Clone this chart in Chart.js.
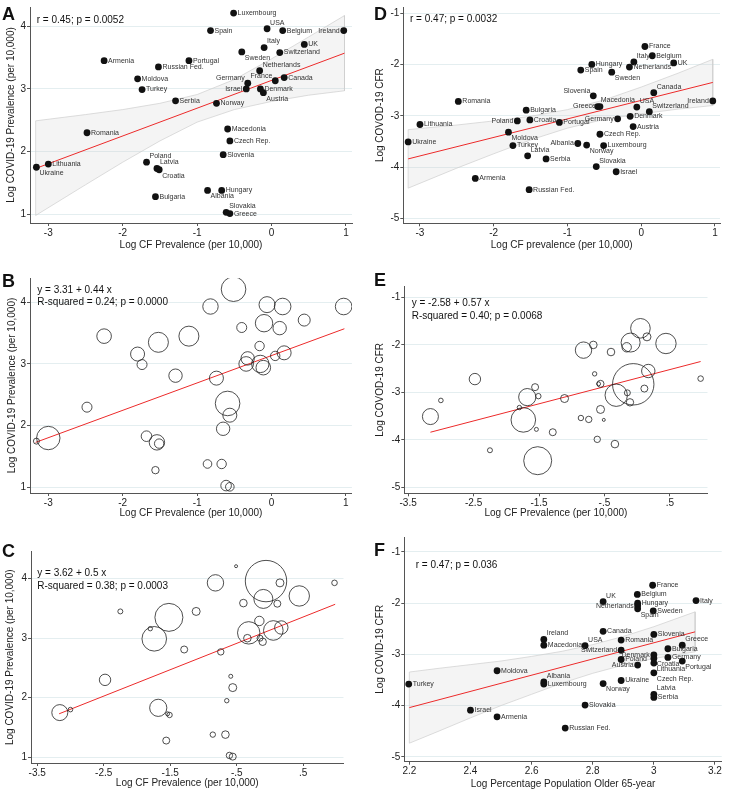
<!DOCTYPE html>
<html>
<head>
<meta charset="utf-8">
<script src="https://cdn.jsdelivr.net/npm/chart.js@4"></script>
<style>
body{margin:0;background:#fff;width:729px;height:795px;position:relative;overflow:hidden}
canvas{position:absolute}
.tag{position:absolute;font:bold 18px "Liberation Sans",Arial,sans-serif;line-height:1;color:#111}
</style>
</head>
<body>
<canvas id="cA" width="365" height="265" style="left:0;top:0"></canvas>
<canvas id="cB" width="365" height="265" style="left:0;top:265px"></canvas>
<canvas id="cC" width="365" height="265" style="left:0;top:530px"></canvas>
<canvas id="cD" width="364" height="265" style="left:365px;top:0"></canvas>
<canvas id="cE" width="364" height="265" style="left:365px;top:265px"></canvas>
<canvas id="cF" width="364" height="265" style="left:365px;top:530px"></canvas>
<div class="tag" style="left:2px;top:5px">A</div>
<div class="tag" style="left:2px;top:272px">B</div>
<div class="tag" style="left:2px;top:542px">C</div>
<div class="tag" style="left:374px;top:5px">D</div>
<div class="tag" style="left:374px;top:271px">E</div>
<div class="tag" style="left:374px;top:541px">F</div>
<script>
// data
const countries = ['Luxembourg','USA','Spain','Belgium','Ireland','Italy','UK','Sweden','Switzerland','Armenia',
  'Portugal','Russian Fed.','Netherlands','Moldova','Canada','France','Germany','Israel','Denmark','Turkey',
  'Austria','Serbia','Norway','Romania','Macedonia','Czech Rep.','Slovenia','Poland','Latvia','Croatia',
  'Lithuania','Ukraine','Bulgaria','Albania','Hungary','Slovakia','Greece'];
const cfPrev = [-0.51,-0.06,-0.82,0.15,0.97,-0.10,0.44,-0.40,0.11,-2.25,
  -1.11,-1.52,-0.16,-1.80,0.17,0.05,-0.32,-0.34,-0.15,-1.74,
  -0.11,-1.29,-0.74,-2.48,-0.59,-0.56,-0.65,-1.68,-1.54,-1.51,
  -3.00,-3.16,-1.56,-0.86,-0.67,-0.61,-0.56];
const covidPrev = [4.21,3.96,3.93,3.93,3.93,3.66,3.71,3.59,3.58,3.45,
  3.45,3.35,3.29,3.16,3.18,3.13,3.09,3.00,3.00,2.99,
  2.94,2.81,2.77,2.30,2.36,2.17,1.95,1.83,1.73,1.71,
  1.80,1.75,1.28,1.38,1.38,1.03,1.01];
const covidCfr = [-3.58,-2.83,-2.11,-1.83,-2.71,-1.95,-1.97,-2.15,-2.92,-4.22,
  -3.13,-4.44,-2.05,-3.32,-2.55,-1.65,-3.06,-4.09,-3.01,-3.58,
  -3.21,-3.84,-3.57,-2.72,-2.82,-3.36,-2.61,-3.10,-3.78,-3.08,
  -3.17,-3.51,-2.89,-3.54,-2.00,-3.99,-2.82];
const old65 = [2.64,2.775,2.947,2.946,2.64,3.138,2.834,2.998,2.893,2.487,
  3.093,2.71,2.947,2.487,2.834,2.996,3.046,2.40,3.0,2.198,
  2.947,3.0,2.834,2.893,2.64,3.0,3.0,2.893,3.0,3.0,
  3.0,2.893,3.046,2.64,2.947,2.775,3.093];
const sizeB = [12.3,8,7.7,8.3,8.3,8.7,6,5,6.7,7.3,
  10,10,4.7,7,7,4.7,6.7,7.3,8.7,5,
  7.3,6.7,7,5,12.3,7,6.7,5.3,7.7,4.7,
  11.7,3,3.7,4.3,4.7,5.3,4.3];
const sizeCE = [1.5,20.7,8.2,4,2.8,9.5,10.2,3.8,3.5,2.5,
  4,14,4.7,2.2,6.7,9.8,11.2,3.8,3,12.3,
  3.7,3.5,3.2,5.7,2,4,2.2,8.6,2,2.7,
  2.3,8,3.5,2.7,3.8,3.2,3.5];

const fitPrev = [[-3.17,1.73],[0.98,3.57]];
const fitCfr = [[-3.16,-3.84],[0.97,-2.35]];
const fitOld = [[2.2,-4.04],[3.135,-2.56]];

const bandPrevX = [-3.17,-2.5,-2,-1.5,-1,-0.5,0,0.5,0.98];
const bandPrevHi = [2.49,2.59,2.67,2.77,2.91,3.15,3.48,3.83,4.17];
const bandPrevLo = [0.98,1.47,1.83,2.17,2.47,2.67,2.80,2.90,2.97];
const bandCfrX = [-3.16,-2.5,-2,-1.5,-1,-0.5,0,0.5,0.97];
const bandCfrHi = [-3.27,-3.18,-3.10,-3.01,-2.88,-2.69,-2.44,-2.17,-1.90];
const bandCfrLo = [-4.41,-4.02,-3.74,-3.47,-3.24,-3.07,-2.96,-2.87,-2.80];
const bandOldX = [2.2,2.3,2.4,2.5,2.6,2.7,2.8,2.9,3.0,3.135];
const bandOldHi = [-3.345,-3.27,-3.20,-3.13,-3.04,-2.94,-2.81,-2.65,-2.46,-2.17];
const bandOldLo = [-4.735,-4.49,-4.24,-4.00,-3.78,-3.56,-3.37,-3.21,-3.08,-2.95];

const xTicksCF = [-3,-2,-1,0,1];
const xLabelsCF = ['-3','-2','-1','0','1'];
const xTicksCF2 = [-3.5,-2.5,-1.5,-0.5,0.5];
const xLabelsCF2 = ['-3.5','-2.5','-1.5','-.5','.5'];
const xTicksOld = [2.2,2.4,2.6,2.8,3,3.2];
const xLabelsOld = ['2.2','2.4','2.6','2.8','3','3.2'];
const yTicksPrev = [1,2,3,4];
const yLabelsPrev = ['1','2','3','4'];
const yTicksCfr = [-5,-4,-3,-2,-1];
const yLabelsCfr = ['-5','-4','-3','-2','-1'];

// label placement (clock positions, 3 = right)
const posA = {'USA':2,'Ireland':9,'Italy':2,'Sweden':4,'Netherlands':2,'France':10,'Germany':10,'Israel':9,
  'Austria':4,'Poland':2,'Latvia':2,'Croatia':4,'Ukraine':4,'Albania':4,'Slovakia':2};
const posD = {'Italy':2,'Sweden':4,'Canada':2,'Slovenia':10,'Macedonia':2,'Greece':9,'USA':2,'Ireland':9,
  'Switzerland':2,'Poland':9,'Germany':9,'Moldova':4,'Albania':9,'Norway':4,'Latvia':2,'Slovakia':2};
const posF = {'UK':2,'Netherlands':9,'Spain':4,'Ireland':2,'USA':2,'Greece':2,'Switzerland':9,'Denmark':9,
  'Portugal':4,'Austria':9,'Croatia':4,'Lithuania':4,'Czech Rep.':4,'Albania':2,'Norway':4,'Latvia':2};
const clock = {3:[4,0,'left'],9:[-4,0,'right'],2:[3,-6,'left'],4:[3,6,'left'],10:[-3,-5,'right'],8:[-3,5,'right']};

const FONT = '"Liberation Sans", Arial, sans-serif';
Chart.defaults.font.family = FONT;
Chart.defaults.color = '#222';

const namePlugin = {
  id: 'names',
  afterDatasetsDraw(chart, args, opts) {
    if (!opts || !opts.pos) return;
    const meta = chart.getDatasetMeta(opts.set);
    const ctx = chart.ctx;
    ctx.save();
    ctx.font = '7px ' + FONT;
    ctx.fillStyle = '#333';
    ctx.textBaseline = 'middle';
    countries.forEach((n, i) => {
      const el = meta.data[i];
      const off = clock[opts.pos[n] || 3];
      ctx.textAlign = off[2];
      ctx.fillText(n, el.x + off[0], el.y + off[1]);
    });
    ctx.restore();
  }
};
const notePlugin = {
  id: 'notes',
  afterDatasetsDraw(chart, args, opts) {
    if (!opts || !opts.lines) return;
    const ctx = chart.ctx, a = chart.chartArea;
    ctx.save();
    ctx.font = '10px ' + FONT;
    ctx.fillStyle = '#111';
    ctx.textBaseline = 'middle';
    ctx.textAlign = 'left';
    opts.lines.forEach((t, i) => ctx.fillText(t, a.left + opts.dx, a.top + opts.dy + i * opts.gap));
    ctx.restore();
  }
};
Chart.register(namePlugin, notePlugin);

function pts(xs, ys) { return xs.map((x, i) => ({x: x, y: ys[i]})); }
function bubbles(xs, ys, rs) { return xs.map((x, i) => ({x: x, y: ys[i], r: rs[i]})); }
function band(xs, hi, lo) {
  const up = xs.map((x, i) => ({x: x, y: hi[i]}));
  const dn = xs.map((x, i) => ({x: x, y: lo[i]})).reverse();
  return up.concat(dn, [up[0]]);
}
function dots(data) {
  return {type: 'scatter', data: data, pointRadius: 3.4, backgroundColor: '#111', borderWidth: 0, order: 1};
}
function rings(data) {
  return {type: 'bubble', data: data, backgroundColor: 'rgba(0,0,0,0)', borderColor: '#222', borderWidth: 0.8, order: 1};
}
function fitLine(f) {
  return {type: 'line', data: f.map(p => ({x: p[0], y: p[1]})), borderColor: '#ec2a2a', borderWidth: 1,
    pointRadius: 0, fill: false, order: 2};
}
function ciBand(data) {
  return {type: 'line', data: data, borderColor: '#cfcfcf', borderWidth: 0.7, backgroundColor: 'rgba(205,205,205,0.22)',
    fill: 'shape', pointRadius: 0, tension: 0, order: 3};
}

function panel(id, o) {
  const c = document.getElementById(id);
  const W = c.width, H = c.height;
  return new Chart(c, {
    type: 'scatter',
    data: {datasets: o.datasets},
    options: {
      responsive: false, animation: false, events: [],
      layout: {padding: {left: 0, top: 2, right: W - o.area[1], bottom: 0}},
      plugins: {legend: {display: false}, tooltip: {enabled: false}, notes: o.notes, names: o.names || false},
      scales: {
        x: {
          type: 'linear', min: o.x[0], max: o.x[1],
          afterBuildTicks: s => { s.ticks = o.xt.map(v => ({value: v})); },
          afterFit: s => { s.height = H - o.area[2]; },
          ticks: {padding: 1, autoSkip: false, maxRotation: 0, font: {size: 10}, color: '#222', callback: (v, i) => o.xl[i]},
          grid: {drawOnChartArea: false, tickLength: 3, tickColor: '#555'},
          border: {color: '#555', width: 1},
          title: {display: true, text: o.xTitle, font: {size: 10}, color: '#222', padding: {top: 0, bottom: o.tb}}
        },
        y: {
          type: 'linear', min: o.y[0], max: o.y[1],
          afterBuildTicks: s => { s.ticks = o.yt.map(v => ({value: v})); },
          afterFit: s => { s.width = o.area[0]; },
          ticks: {padding: 1, autoSkip: false, font: {size: 10}, color: '#222', callback: (v, i) => o.yl[i]},
          grid: {color: '#e4eef0', lineWidth: 1, tickLength: 3, tickColor: '#555'},
          border: {color: '#555', width: 1},
          title: {display: true, text: o.yTitle, font: {size: 10}, color: '#222', padding: {top: o.tl, bottom: 0}}
        }
      }
    }
  });
}

const titlePrev = 'Log COVID-19 Prevalence (per 10,000)';
const titleCF = 'Log CF Prevalence (per 10,000)';

panel('cA', {
  area: [30, 352, 223], x: [-3.246, 1.081], y: [0.86, 4.307],
  xt: xTicksCF, xl: xLabelsCF, yt: yTicksPrev, yl: yLabelsPrev,
  xTitle: titleCF, yTitle: titlePrev, tb: 14, tl: 5.7,
  notes: {lines: ['r = 0.45; p = 0.0052'], dx: 6.7, dy: 13, gap: 12},
  names: {set: 2, pos: posA},
  datasets: [ciBand(band(bandPrevX, bandPrevHi, bandPrevLo)), fitLine(fitPrev), dots(pts(cfPrev, covidPrev))]
});
panel('cB', {
  area: [30, 352, 228], x: [-3.246, 1.081], y: [0.91, 4.39],
  xt: xTicksCF, xl: xLabelsCF, yt: yTicksPrev, yl: yLabelsPrev,
  xTitle: titleCF, yTitle: titlePrev, tb: 10.7, tl: 6.3,
  notes: {lines: ['y = 3.31 + 0.44 x', 'R-squared = 0.24; p = 0.0000'], dx: 7.3, dy: 12, gap: 12},
  datasets: [fitLine(fitPrev), rings(bubbles(cfPrev, covidPrev, sizeB))]
});
panel('cC', {
  area: [31, 352, 233], x: [-3.593, 1.105], y: [0.903, 4.457],
  xt: xTicksCF2, xl: xLabelsCF2, yt: yTicksPrev, yl: yLabelsPrev,
  xTitle: titleCF, yTitle: titlePrev, tb: 5.7, tl: 4.7,
  notes: {lines: ['y = 3.62 + 0.5 x', 'R-squared = 0.38; p = 0.0003'], dx: 6.3, dy: 22, gap: 12.7},
  datasets: [fitLine(fitPrev), rings(bubbles(cfPrev, covidPrev, sizeCE))]
});
panel('cD', {
  area: [38.3, 355, 223.3], x: [-3.226, 1.068], y: [-5.095, -0.88],
  xt: xTicksCF, xl: xLabelsCF, yt: yTicksCfr, yl: yLabelsCfr,
  xTitle: 'Log CF prevalence (per 10,000)', yTitle: 'Log COVOD-19 CFR', tb: 14, tl: 9,
  notes: {lines: ['r = 0.47; p = 0.0032'], dx: 6.7, dy: 12, gap: 12},
  names: {set: 2, pos: posD},
  datasets: [ciBand(band(bandCfrX, bandCfrHi, bandCfrLo)), fitLine(fitCfr), dots(pts(cfPrev, covidCfr))]
});
panel('cE', {
  area: [39.3, 356.7, 228.3], x: [-3.559, 1.075], y: [-5.127, -0.769],
  xt: xTicksCF2, xl: xLabelsCF2, yt: yTicksCfr, yl: yLabelsCfr,
  xTitle: titleCF, yTitle: 'Log COVOD-19 CFR', tb: 10.7, tl: 9.7,
  notes: {lines: ['y = -2.58 + 0.57 x', 'R-squared = 0.40; p = 0.0068'], dx: 7.4, dy: 16.3, gap: 13.4},
  datasets: [fitLine(fitCfr), rings(bubbles(cfPrev, covidCfr, sizeCE))]
});
panel('cF', {
  area: [39.3, 356.7, 231.7], x: [2.1835, 3.222], y: [-5.096, -0.708],
  xt: xTicksOld, xl: xLabelsOld, yt: yTicksCfr, yl: yLabelsCfr,
  xTitle: 'Log Percentage Population Older 65-year', yTitle: 'Log COVID-19 CFR', tb: 5, tl: 9,
  notes: {lines: ['r = 0.47; p = 0.036'], dx: 11.4, dy: 28, gap: 12},
  names: {set: 2, pos: posF},
  datasets: [ciBand(band(bandOldX, bandOldHi, bandOldLo)), fitLine(fitOld), dots(pts(old65, covidCfr))]
});
</script>
</body>
</html>
